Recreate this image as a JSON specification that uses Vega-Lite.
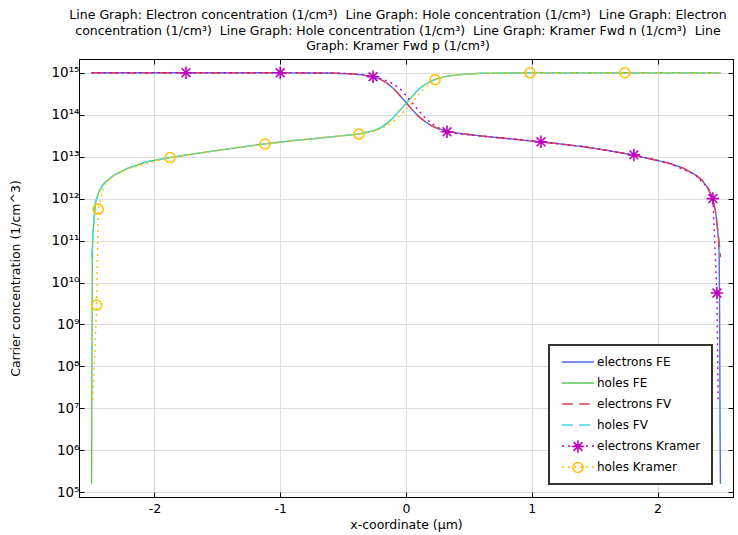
{
  "$schema": "https://vega.github.io/schema/vega-lite/v6.json",
  "width": 654,
  "height": 438,
  "autosize": {"type": "none"},
  "padding": {"left": 79, "top": 59, "right": 5, "bottom": 38},
  "background": "white",
  "title": {
    "text": [
      "Line Graph: Electron concentration (1/cm³) \u00a0Line Graph: Hole concentration (1/cm³) \u00a0Line Graph: Electron",
      "concentration (1/cm³) \u00a0Line Graph: Hole concentration (1/cm³) \u00a0Line Graph: Kramer Fwd n (1/cm³) \u00a0Line",
      "Graph: Kramer Fwd p (1/cm³)"
    ],
    "font": "DejaVu Sans",
    "fontSize": 12.5,
    "fontWeight": "normal",
    "lineHeight": 15.5,
    "anchor": "middle",
    "offset": 6,
    "dx": -8,
    "color": "black"
  },
  "config": {
    "font": "DejaVu Sans",
    "view": {"stroke": "black", "strokeWidth": 1},
    "legend": {"strokeWidth": 2},
    "axis": {
      "domainColor": "black",
      "tickColor": "black",
      "labelColor": "black",
      "titleColor": "black",
      "labelFontSize": 12.5,
      "titleFontSize": 12.5,
      "titleFontWeight": "normal",
      "gridColor": "#dedede",
      "gridWidth": 1
    }
  },
  "datasets": {
    "curves": [
      {"x": -2.5, "conc": 1e15, "series": "electrons FE"},
      {"x": -2.0, "conc": 1e15, "series": "electrons FE"},
      {"x": -1.5, "conc": 1e15, "series": "electrons FE"},
      {"x": -1.0, "conc": 9.95e14, "series": "electrons FE"},
      {"x": -0.6, "conc": 9.8e14, "series": "electrons FE"},
      {"x": -0.45, "conc": 9.4e14, "series": "electrons FE"},
      {"x": -0.35, "conc": 8.9e14, "series": "electrons FE"},
      {"x": -0.26, "conc": 7.9e14, "series": "electrons FE"},
      {"x": -0.2, "conc": 6.9e14, "series": "electrons FE"},
      {"x": -0.15, "conc": 5.6e14, "series": "electrons FE"},
      {"x": -0.1, "conc": 4.2e14, "series": "electrons FE"},
      {"x": -0.05, "conc": 2.9e14, "series": "electrons FE"},
      {"x": 0.0, "conc": 1.95e14, "series": "electrons FE"},
      {"x": 0.05, "conc": 1.3e14, "series": "electrons FE"},
      {"x": 0.1, "conc": 9.1e13, "series": "electrons FE"},
      {"x": 0.15, "conc": 6.9e13, "series": "electrons FE"},
      {"x": 0.2, "conc": 5.5e13, "series": "electrons FE"},
      {"x": 0.25, "conc": 4.7e13, "series": "electrons FE"},
      {"x": 0.33, "conc": 4.0e13, "series": "electrons FE"},
      {"x": 0.45, "conc": 3.5e13, "series": "electrons FE"},
      {"x": 0.6, "conc": 3.1e13, "series": "electrons FE"},
      {"x": 0.8, "conc": 2.7e13, "series": "electrons FE"},
      {"x": 1.0, "conc": 2.35e13, "series": "electrons FE"},
      {"x": 1.2, "conc": 2.05e13, "series": "electrons FE"},
      {"x": 1.4, "conc": 1.74e13, "series": "electrons FE"},
      {"x": 1.6, "conc": 1.41e13, "series": "electrons FE"},
      {"x": 1.8, "conc": 1.1e13, "series": "electrons FE"},
      {"x": 2.0, "conc": 8.1e12, "series": "electrons FE"},
      {"x": 2.1, "conc": 6.8e12, "series": "electrons FE"},
      {"x": 2.2, "conc": 5.4e12, "series": "electrons FE"},
      {"x": 2.3, "conc": 3.7e12, "series": "electrons FE"},
      {"x": 2.35, "conc": 2.8e12, "series": "electrons FE"},
      {"x": 2.4, "conc": 1.8e12, "series": "electrons FE"},
      {"x": 2.43, "conc": 1.15e12, "series": "electrons FE"},
      {"x": 2.45, "conc": 7.2e11, "series": "electrons FE"},
      {"x": 2.465, "conc": 4.2e11, "series": "electrons FE"},
      {"x": 2.475, "conc": 2.2e11, "series": "electrons FE"},
      {"x": 2.485, "conc": 1e11, "series": "electrons FE"},
      {"x": 2.49, "conc": 4e10, "series": "electrons FE"},
      {"x": 2.493, "conc": 4e9, "series": "electrons FE"},
      {"x": 2.495, "conc": 1.6e8, "series": "electrons FE"},
      {"x": 2.497, "conc": 4e6, "series": "electrons FE"},
      {"x": 2.5, "conc": 1.6e5, "series": "electrons FE"},

      {"x": -2.5, "conc": 1.6e5, "series": "holes FE"},
      {"x": -2.498, "conc": 1e7, "series": "holes FE"},
      {"x": -2.496, "conc": 1e9, "series": "holes FE"},
      {"x": -2.494, "conc": 4.6e10, "series": "holes FE"},
      {"x": -2.49, "conc": 1.35e11, "series": "holes FE"},
      {"x": -2.482, "conc": 2.8e11, "series": "holes FE"},
      {"x": -2.468, "conc": 8.5e11, "series": "holes FE"},
      {"x": -2.442, "conc": 1.45e12, "series": "holes FE"},
      {"x": -2.402, "conc": 2.3e12, "series": "holes FE"},
      {"x": -2.323, "conc": 3.6e12, "series": "holes FE"},
      {"x": -2.217, "conc": 5.2e12, "series": "holes FE"},
      {"x": -2.058, "conc": 7.6e12, "series": "holes FE"},
      {"x": -1.873, "conc": 9.5e12, "series": "holes FE"},
      {"x": -1.635, "conc": 1.23e13, "series": "holes FE"},
      {"x": -1.4, "conc": 1.55e13, "series": "holes FE"},
      {"x": -1.159, "conc": 1.95e13, "series": "holes FE"},
      {"x": -0.9, "conc": 2.4e13, "series": "holes FE"},
      {"x": -0.7, "conc": 2.75e13, "series": "holes FE"},
      {"x": -0.524, "conc": 3.1e13, "series": "holes FE"},
      {"x": -0.365, "conc": 3.5e13, "series": "holes FE"},
      {"x": -0.25, "conc": 4.2e13, "series": "holes FE"},
      {"x": -0.2, "conc": 4.9e13, "series": "holes FE"},
      {"x": -0.15, "conc": 6.2e13, "series": "holes FE"},
      {"x": -0.1, "conc": 8.5e13, "series": "holes FE"},
      {"x": -0.05, "conc": 1.26e14, "series": "holes FE"},
      {"x": 0.0, "conc": 1.86e14, "series": "holes FE"},
      {"x": 0.05, "conc": 2.75e14, "series": "holes FE"},
      {"x": 0.1, "conc": 4.0e14, "series": "holes FE"},
      {"x": 0.15, "conc": 5.2e14, "series": "holes FE"},
      {"x": 0.2, "conc": 6.3e14, "series": "holes FE"},
      {"x": 0.25, "conc": 7.2e14, "series": "holes FE"},
      {"x": 0.33, "conc": 8.3e14, "series": "holes FE"},
      {"x": 0.45, "conc": 9.1e14, "series": "holes FE"},
      {"x": 0.6, "conc": 9.7e14, "series": "holes FE"},
      {"x": 1.0, "conc": 9.93e14, "series": "holes FE"},
      {"x": 1.5, "conc": 1e15, "series": "holes FE"},
      {"x": 2.0, "conc": 1e15, "series": "holes FE"},
      {"x": 2.5, "conc": 1e15, "series": "holes FE"},

      {"x": -2.5, "conc": 1e15, "series": "electrons FV"},
      {"x": -2.0, "conc": 1e15, "series": "electrons FV"},
      {"x": -1.5, "conc": 1e15, "series": "electrons FV"},
      {"x": -1.0, "conc": 9.95e14, "series": "electrons FV"},
      {"x": -0.6, "conc": 9.8e14, "series": "electrons FV"},
      {"x": -0.45, "conc": 9.4e14, "series": "electrons FV"},
      {"x": -0.35, "conc": 8.9e14, "series": "electrons FV"},
      {"x": -0.26, "conc": 7.9e14, "series": "electrons FV"},
      {"x": -0.2, "conc": 6.9e14, "series": "electrons FV"},
      {"x": -0.15, "conc": 5.6e14, "series": "electrons FV"},
      {"x": -0.1, "conc": 4.2e14, "series": "electrons FV"},
      {"x": -0.05, "conc": 2.9e14, "series": "electrons FV"},
      {"x": 0.0, "conc": 1.95e14, "series": "electrons FV"},
      {"x": 0.05, "conc": 1.3e14, "series": "electrons FV"},
      {"x": 0.1, "conc": 9.1e13, "series": "electrons FV"},
      {"x": 0.15, "conc": 6.9e13, "series": "electrons FV"},
      {"x": 0.2, "conc": 5.5e13, "series": "electrons FV"},
      {"x": 0.25, "conc": 4.7e13, "series": "electrons FV"},
      {"x": 0.33, "conc": 4.0e13, "series": "electrons FV"},
      {"x": 0.45, "conc": 3.5e13, "series": "electrons FV"},
      {"x": 0.6, "conc": 3.1e13, "series": "electrons FV"},
      {"x": 0.8, "conc": 2.7e13, "series": "electrons FV"},
      {"x": 1.0, "conc": 2.35e13, "series": "electrons FV"},
      {"x": 1.2, "conc": 2.05e13, "series": "electrons FV"},
      {"x": 1.4, "conc": 1.74e13, "series": "electrons FV"},
      {"x": 1.6, "conc": 1.41e13, "series": "electrons FV"},
      {"x": 1.8, "conc": 1.1e13, "series": "electrons FV"},
      {"x": 2.0, "conc": 8.1e12, "series": "electrons FV"},
      {"x": 2.1, "conc": 6.8e12, "series": "electrons FV"},
      {"x": 2.2, "conc": 5.4e12, "series": "electrons FV"},
      {"x": 2.3, "conc": 3.7e12, "series": "electrons FV"},
      {"x": 2.35, "conc": 2.8e12, "series": "electrons FV"},
      {"x": 2.4, "conc": 1.8e12, "series": "electrons FV"},
      {"x": 2.43, "conc": 1.15e12, "series": "electrons FV"},
      {"x": 2.45, "conc": 7.2e11, "series": "electrons FV"},
      {"x": 2.465, "conc": 4.2e11, "series": "electrons FV"},
      {"x": 2.475, "conc": 2.2e11, "series": "electrons FV"},
      {"x": 2.487, "conc": 1.1e11, "series": "electrons FV"},
      {"x": 2.495, "conc": 6.5e10, "series": "electrons FV"},
      {"x": 2.501, "conc": 4e10, "series": "electrons FV"},

      {"x": -2.501, "conc": 4e10, "series": "holes FV"},
      {"x": -2.494, "conc": 7e10, "series": "holes FV"},
      {"x": -2.488, "conc": 1.5e11, "series": "holes FV"},
      {"x": -2.48, "conc": 3e11, "series": "holes FV"},
      {"x": -2.468, "conc": 8.5e11, "series": "holes FV"},
      {"x": -2.442, "conc": 1.45e12, "series": "holes FV"},
      {"x": -2.402, "conc": 2.3e12, "series": "holes FV"},
      {"x": -2.323, "conc": 3.6e12, "series": "holes FV"},
      {"x": -2.217, "conc": 5.2e12, "series": "holes FV"},
      {"x": -2.058, "conc": 7.6e12, "series": "holes FV"},
      {"x": -1.873, "conc": 9.5e12, "series": "holes FV"},
      {"x": -1.635, "conc": 1.23e13, "series": "holes FV"},
      {"x": -1.4, "conc": 1.55e13, "series": "holes FV"},
      {"x": -1.159, "conc": 1.95e13, "series": "holes FV"},
      {"x": -0.9, "conc": 2.4e13, "series": "holes FV"},
      {"x": -0.7, "conc": 2.75e13, "series": "holes FV"},
      {"x": -0.524, "conc": 3.1e13, "series": "holes FV"},
      {"x": -0.365, "conc": 3.5e13, "series": "holes FV"},
      {"x": -0.25, "conc": 4.2e13, "series": "holes FV"},
      {"x": -0.2, "conc": 4.9e13, "series": "holes FV"},
      {"x": -0.15, "conc": 6.2e13, "series": "holes FV"},
      {"x": -0.1, "conc": 8.5e13, "series": "holes FV"},
      {"x": -0.05, "conc": 1.26e14, "series": "holes FV"},
      {"x": 0.0, "conc": 1.86e14, "series": "holes FV"},
      {"x": 0.05, "conc": 2.75e14, "series": "holes FV"},
      {"x": 0.1, "conc": 4.0e14, "series": "holes FV"},
      {"x": 0.15, "conc": 5.2e14, "series": "holes FV"},
      {"x": 0.2, "conc": 6.3e14, "series": "holes FV"},
      {"x": 0.25, "conc": 7.2e14, "series": "holes FV"},
      {"x": 0.33, "conc": 8.3e14, "series": "holes FV"},
      {"x": 0.45, "conc": 9.1e14, "series": "holes FV"},
      {"x": 0.6, "conc": 9.7e14, "series": "holes FV"},
      {"x": 1.0, "conc": 9.93e14, "series": "holes FV"},
      {"x": 1.5, "conc": 1e15, "series": "holes FV"},
      {"x": 2.0, "conc": 1e15, "series": "holes FV"},
      {"x": 2.5, "conc": 1e15, "series": "holes FV"},

      {"x": -2.5, "conc": 1e15, "series": "electrons Kramer"},
      {"x": -1.749, "conc": 1e15, "series": "electrons Kramer"},
      {"x": -1.0, "conc": 9.95e14, "series": "electrons Kramer"},
      {"x": -0.5, "conc": 9.7e14, "series": "electrons Kramer"},
      {"x": -0.35, "conc": 9.1e14, "series": "electrons Kramer"},
      {"x": -0.262, "conc": 8.0e14, "series": "electrons Kramer"},
      {"x": -0.2, "conc": 7.2e14, "series": "electrons Kramer"},
      {"x": -0.15, "conc": 6.4e14, "series": "electrons Kramer"},
      {"x": -0.1, "conc": 5.4e14, "series": "electrons Kramer"},
      {"x": -0.05, "conc": 4.2e14, "series": "electrons Kramer"},
      {"x": 0.0, "conc": 2.9e14, "series": "electrons Kramer"},
      {"x": 0.05, "conc": 1.9e14, "series": "electrons Kramer"},
      {"x": 0.1, "conc": 1.25e14, "series": "electrons Kramer"},
      {"x": 0.15, "conc": 8.5e13, "series": "electrons Kramer"},
      {"x": 0.2, "conc": 6.3e13, "series": "electrons Kramer"},
      {"x": 0.25, "conc": 5.0e13, "series": "electrons Kramer"},
      {"x": 0.326, "conc": 3.9e13, "series": "electrons Kramer"},
      {"x": 0.45, "conc": 3.4e13, "series": "electrons Kramer"},
      {"x": 0.6, "conc": 3.1e13, "series": "electrons Kramer"},
      {"x": 1.073, "conc": 2.25e13, "series": "electrons Kramer"},
      {"x": 1.4, "conc": 1.74e13, "series": "electrons Kramer"},
      {"x": 1.812, "conc": 1.1e13, "series": "electrons Kramer"},
      {"x": 2.1, "conc": 6.8e12, "series": "electrons Kramer"},
      {"x": 2.3, "conc": 3.7e12, "series": "electrons Kramer"},
      {"x": 2.4, "conc": 1.8e12, "series": "electrons Kramer"},
      {"x": 2.44, "conc": 1.0e12, "series": "electrons Kramer"},
      {"x": 2.472, "conc": 5.6e9, "series": "electrons Kramer"},
      {"x": 2.482, "conc": 1.6e7, "series": "electrons Kramer"},

      {"x": -2.49, "conc": 1.6e7, "series": "holes Kramer"},
      {"x": -2.459, "conc": 2.9e9, "series": "holes Kramer"},
      {"x": -2.448, "conc": 5.6e11, "series": "holes Kramer"},
      {"x": -2.4, "conc": 2.1e12, "series": "holes Kramer"},
      {"x": -2.323, "conc": 3.5e12, "series": "holes Kramer"},
      {"x": -2.2, "conc": 5.3e12, "series": "holes Kramer"},
      {"x": -1.876, "conc": 9.5e12, "series": "holes Kramer"},
      {"x": -1.5, "conc": 1.4e13, "series": "holes Kramer"},
      {"x": -1.121, "conc": 2.0e13, "series": "holes Kramer"},
      {"x": -0.7, "conc": 2.75e13, "series": "holes Kramer"},
      {"x": -0.374, "conc": 3.45e13, "series": "holes Kramer"},
      {"x": -0.25, "conc": 4.0e13, "series": "holes Kramer"},
      {"x": -0.15, "conc": 5.4e13, "series": "holes Kramer"},
      {"x": -0.1, "conc": 6.9e13, "series": "holes Kramer"},
      {"x": -0.05, "conc": 9.5e13, "series": "holes Kramer"},
      {"x": 0.0, "conc": 1.35e14, "series": "holes Kramer"},
      {"x": 0.05, "conc": 1.95e14, "series": "holes Kramer"},
      {"x": 0.1, "conc": 3.0e14, "series": "holes Kramer"},
      {"x": 0.15, "conc": 4.3e14, "series": "holes Kramer"},
      {"x": 0.231, "conc": 6.8e14, "series": "holes Kramer"},
      {"x": 0.3, "conc": 8.0e14, "series": "holes Kramer"},
      {"x": 0.45, "conc": 9.1e14, "series": "holes Kramer"},
      {"x": 0.6, "conc": 9.6e14, "series": "holes Kramer"},
      {"x": 0.986, "conc": 9.95e14, "series": "holes Kramer"},
      {"x": 1.741, "conc": 1e15, "series": "holes Kramer"},
      {"x": 2.5, "conc": 1e15, "series": "holes Kramer"}
    ],
    "markers": [
      {"x": -1.749, "conc": 1e15, "kramer": "electrons Kramer"},
      {"x": -1.0, "conc": 9.95e14, "kramer": "electrons Kramer"},
      {"x": -0.262, "conc": 8.0e14, "kramer": "electrons Kramer"},
      {"x": 0.326, "conc": 3.9e13, "kramer": "electrons Kramer"},
      {"x": 1.073, "conc": 2.25e13, "kramer": "electrons Kramer"},
      {"x": 1.812, "conc": 1.1e13, "kramer": "electrons Kramer"},
      {"x": 2.44, "conc": 1.0e12, "kramer": "electrons Kramer"},
      {"x": 2.472, "conc": 5.6e9, "kramer": "electrons Kramer"},
      {"x": -2.448, "conc": 5.6e11, "kramer": "holes Kramer"},
      {"x": -2.459, "conc": 2.9e9, "kramer": "holes Kramer"},
      {"x": -1.876, "conc": 9.5e12, "kramer": "holes Kramer"},
      {"x": -1.121, "conc": 2.0e13, "kramer": "holes Kramer"},
      {"x": -0.374, "conc": 3.45e13, "kramer": "holes Kramer"},
      {"x": 0.231, "conc": 6.8e14, "kramer": "holes Kramer"},
      {"x": 0.986, "conc": 9.95e14, "kramer": "holes Kramer"},
      {"x": 1.741, "conc": 1e15, "kramer": "holes Kramer"}
    ]
  },
  "resolve": {"axis": {"x": "independent", "y": "independent"}, "scale": {"shape": "independent"}},
  "layer": [
    {
      "data": {"name": "curves"},
      "mark": {"type": "line", "strokeWidth": 1.4},
      "encoding": {
        "x": {
          "field": "x", "type": "quantitative",
          "scale": {"domain": [-2.6, 2.6], "nice": false, "zero": false},
          "axis": {
            "title": "x-coordinate (µm)",
            "values": [-2, -1, 0, 1, 2],
            "labelExpr": "'' + datum.value",
            "tickSize": -5,
            "labelPadding": 10,
            "titlePadding": 4,
            "grid": true
          }
        },
        "y": {
          "field": "conc", "type": "quantitative",
          "scale": {"type": "log", "domain": [77300, 2.12e15], "nice": false},
          "axis": {
            "title": "Carrier concentration (1/cm^3)",
            "values": [1e5, 1e6, 1e7, 1e8, 1e9, 1e10, 1e11, 1e12, 1e13, 1e14, 1e15],
            "labelExpr": "'10' + (round(log(datum.value)/LN10) >= 10 ? substring('⁰¹²³⁴⁵⁶⁷⁸⁹', floor(round(log(datum.value)/LN10)/10), floor(round(log(datum.value)/LN10)/10) + 1) : '') + substring('⁰¹²³⁴⁵⁶⁷⁸⁹', round(log(datum.value)/LN10) % 10, round(log(datum.value)/LN10) % 10 + 1)",
            "labelFontSize": 13.5,
            "tickSize": -5,
            "labelPadding": 5,
            "titleX": -64,
            "titleBaseline": "middle",
            "grid": true
          }
        },
        "color": {
          "field": "series", "type": "nominal",
          "scale": {
            "domain": ["electrons FE", "holes FE", "electrons FV", "holes FV", "electrons Kramer", "holes Kramer"],
            "range": ["#4a6cf0", "#5cc85c", "#e04848", "#4dd8d8", "#c000c0", "#ffc000"]
          },
          "legend": {
            "orient": "none", "legendX": 470, "legendY": 286, "title": null,
            "symbolType": "M-3.2,0H3.2", "symbolSize": 100, "symbolStrokeWidth": 1.5,
            "labelFontSize": 12, "labelColor": "black", "padding": 11, "rowPadding": 9,
            "fillColor": "white", "strokeColor": "#333333",
            "symbolOffset": 12, "labelOffset": 13, "zindex": 1
          }
        },
        "strokeDash": {
          "field": "series", "type": "nominal",
          "scale": {
            "domain": ["electrons FE", "holes FE", "electrons FV", "holes FV", "electrons Kramer", "holes Kramer"],
            "range": [[1, 0], [1, 0], [11, 6], [11, 6], [2, 4], [2, 4]]
          },
          "legend": {
            "orient": "none", "legendX": 470, "legendY": 286, "title": null,
            "symbolType": "M-3.2,0H3.2", "symbolSize": 100, "symbolStrokeWidth": 1.5,
            "labelFontSize": 12, "labelColor": "black", "padding": 11, "rowPadding": 9,
            "fillColor": "white", "strokeColor": "#333333",
            "symbolOffset": 12, "labelOffset": 13, "zindex": 1
          }
        }
      }
    },
    {
      "data": {"name": "markers"},
      "transform": [{"filter": "datum.kramer === 'electrons Kramer'"}],
      "mark": {"type": "point", "filled": false, "stroke": "#c000c0", "strokeWidth": 1.6, "size": 100, "opacity": 1},
      "encoding": {
        "x": {
          "field": "x", "type": "quantitative",
          "axis": {"orient": "top", "labels": false, "title": null, "grid": false, "tickSize": -5, "values": [-2, -1, 0, 1, 2]}
        },
        "y": {
          "field": "conc", "type": "quantitative",
          "axis": {"orient": "right", "labels": false, "title": null, "grid": false, "tickSize": -5,
            "values": [1e5, 1e6, 1e7, 1e8, 1e9, 1e10, 1e11, 1e12, 1e13, 1e14, 1e15]}
        },
        "shape": {
          "field": "kramer", "type": "nominal",
          "scale": {
            "domain": ["electrons Kramer"],
            "range": ["M-1.25,0H1.25M0,-1.25V1.25M-0.88,-0.88L0.88,0.88M-0.88,0.88L0.88,-0.88"]
          },
          "legend": {
            "orient": "none", "legendX": 493, "legendY": 381.5, "title": null,
            "symbolSize": 100, "symbolStrokeWidth": 1.6, "symbolStrokeColor": "#c000c0", "labelExpr": "' '",
            "labelFontSize": 12, "padding": 0, "symbolOffset": 0,
            "fillColor": "transparent", "strokeColor": "transparent", "zindex": 2
          }
        }
      }
    },
    {
      "data": {"name": "markers"},
      "transform": [{"filter": "datum.kramer === 'holes Kramer'"}],
      "mark": {"type": "point", "filled": false, "stroke": "#ffc000", "strokeWidth": 1.6, "size": 100, "opacity": 1},
      "encoding": {
        "x": {"field": "x", "type": "quantitative", "axis": null},
        "y": {"field": "conc", "type": "quantitative", "axis": null},
        "shape": {
          "field": "kramer", "type": "nominal",
          "scale": {"domain": ["holes Kramer"], "range": ["circle"]},
          "legend": {
            "orient": "none", "legendX": 493, "legendY": 402.5, "title": null,
            "symbolSize": 100, "symbolStrokeWidth": 1.6, "symbolStrokeColor": "#ffc000", "labelExpr": "' '",
            "labelFontSize": 12, "padding": 0, "symbolOffset": 0,
            "fillColor": "transparent", "strokeColor": "transparent", "zindex": 2
          }
        }
      }
    }
  ]
}
